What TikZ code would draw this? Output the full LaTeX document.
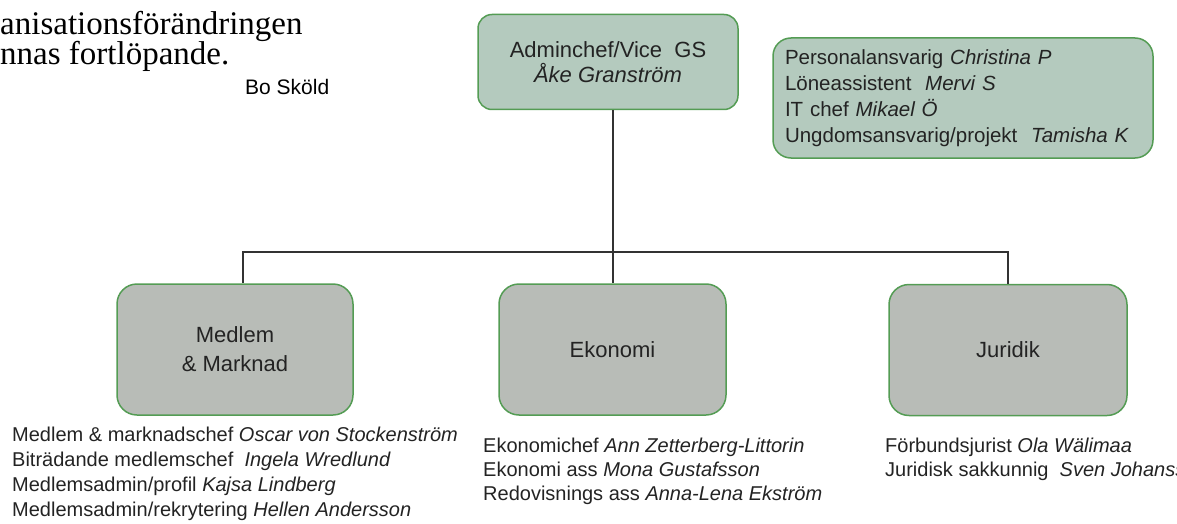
\documentclass[tikz,border=0pt]{standalone}
\usepackage{fontspec}
\setmainfont{Liberation Serif}
\setsansfont{Liberation Sans}

\definecolor{boxgreen}{RGB}{84,156,84}
\definecolor{headfill}{RGB}{180,202,190}
\definecolor{unitfill}{RGB}{184,188,183}
\definecolor{linegray}{RGB}{50,50,50}
\definecolor{textgray}{RGB}{35,35,35}

\tikzset{
  headbox/.style={draw=boxgreen, line width=1.5pt, fill=headfill, rounded corners=14pt, text=textgray,
    font=\sffamily\fontsize{22}{25}\selectfont, align=center},
  unitbox/.style={draw=boxgreen, line width=1.5pt, fill=unitfill, rounded corners=20pt, text=textgray,
    minimum height=131pt, font=\sffamily\fontsize{22}{29}\selectfont, align=center},
  stafflist/.style={anchor=north west, inner sep=0pt, align=left, text=textgray,
    font=\sffamily\fontsize{20}{24}\selectfont},
  orgline/.style={draw=linegray, line width=1.8pt}
}

\begin{document}
\begin{tikzpicture}[x=1pt,y=-1pt]
\useasboundingbox (0,0) rectangle (1177,524);
%\draw[step=50pt,gray,very thin] (0,0) grid (1177,524); %background grid

% text beside the chart
\node[anchor=base west, inner sep=0pt, font=\fontsize{33}{30}\selectfont] (intro1) at (0,35) {anisationsförändringen};
\node[anchor=base west, inner sep=0pt, font=\fontsize{33}{30}\selectfont] (intro2) at (0,65) {nnas fortlöpande.};
\node[anchor=base west, inner sep=0pt, font=\sffamily\fontsize{21}{25}\selectfont] (sign) at (245,95) {Bo Sköld};

% top boxes
\node[headbox, minimum width=260pt, minimum height=95pt] (admin) at (608,62) {Adminchef/Vice\ \ GS\\\textit{Åke Granström}};
\node[headbox, rounded corners=18pt, text width=356pt, inner xsep=12pt, minimum height=120pt, align=left,
  font=\sffamily\fontsize{20.5}{26}\selectfont] (staff) at (963,98)
  {Personalansvarig \textit{Christina P}\\
   Löneassistent\ \ \textit{Mervi S}\\
   IT chef \textit{Mikael Ö}\\
   Ungdomsansvarig/projekt\ \ \textit{Tamisha K}};

% units
\node[unitbox, minimum width=236pt] (medlem) at (235,349.5) {Medlem\\\& Marknad};
\node[unitbox, minimum width=227pt] (ekonomi) at (612.5,349.5) {Ekonomi};
\node[unitbox, minimum width=238pt] (juridik) at (1008,350) {Juridik};

% lines
\coordinate (hub) at (613,252);
\draw[orgline] (admin.south -| hub) -- (hub);
\draw[orgline] (hub) -- (ekonomi.north -| hub);
\draw[orgline] (hub) -| ([xshift=8pt]medlem.north);
\draw[orgline] (hub) -| (juridik.north);

% staff under each unit
\node[stafflist, font=\sffamily\fontsize{20}{25}\selectfont] (medlemstaff) at (12,427)
  {Medlem \& marknadschef \textit{Oscar von Stockenström}\\
   Biträdande medlemschef\ \ \textit{Ingela Wredlund}\\
   Medlemsadmin/profil \textit{Kajsa Lindberg}\\
   Medlemsadmin/rekrytering \textit{Hellen Andersson}};
\node[stafflist] (ekonomistaff) at (483,438)
  {Ekonomichef \textit{Ann Zetterberg-Littorin}\\
   Ekonomi ass \textit{Mona Gustafsson}\\
   Redovisnings ass \textit{Anna-Lena Ekström}};
\node[stafflist] (juridikstaff) at (885,438)
  {Förbundsjurist \textit{Ola Wälimaa}\\
   Juridisk sakkunnig\ \ \textit{Sven Johanss}};
\end{tikzpicture}
\end{document}
